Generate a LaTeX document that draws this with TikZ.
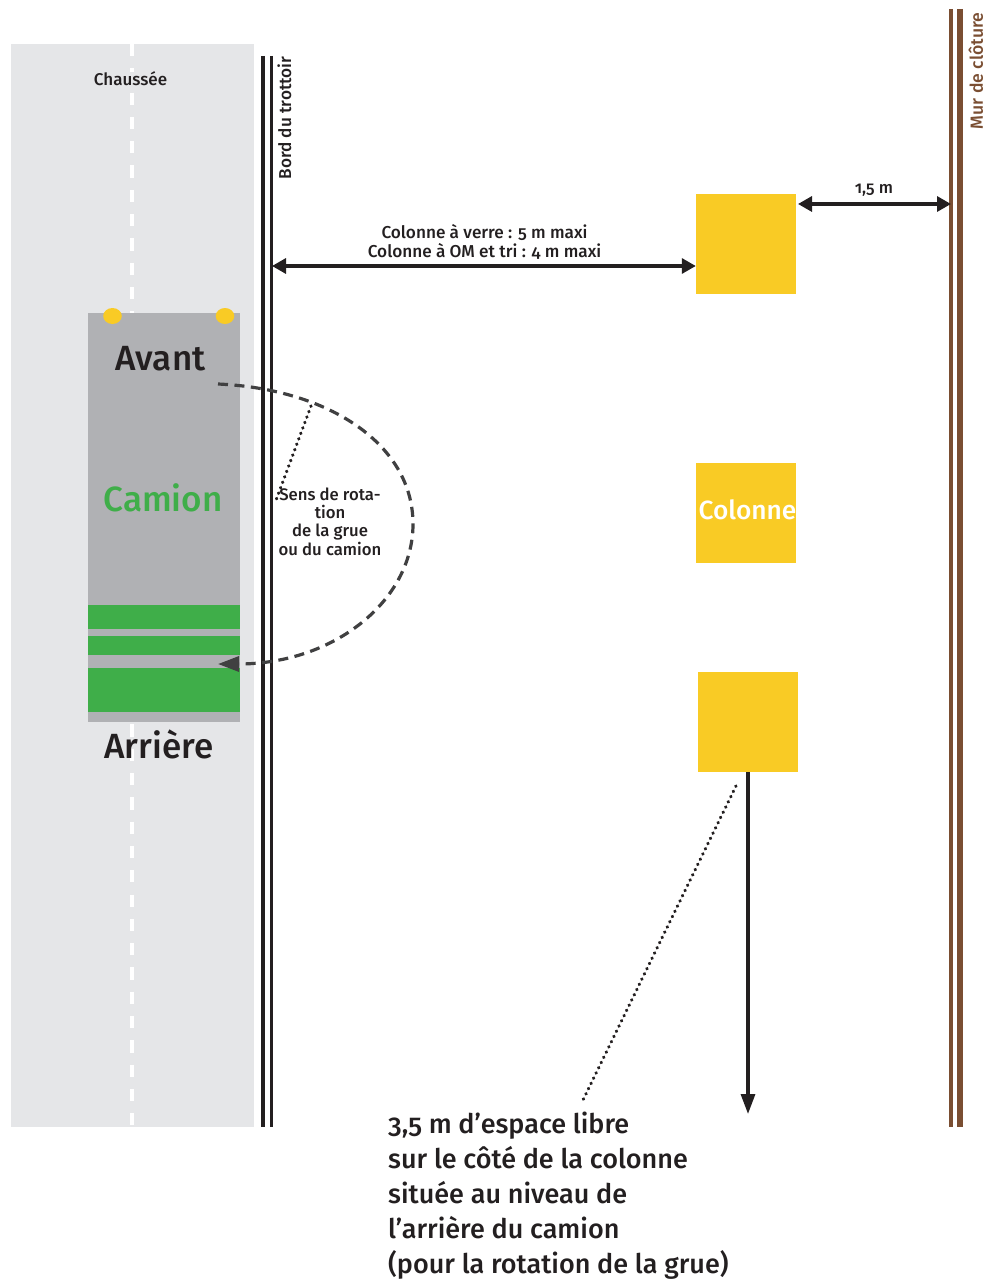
\documentclass[tikz,border=0pt]{standalone}
\usepackage{fontspec}
\setmainfont[Numbers=OldStyle,UprightFont=* Medium]{Fira Sans}
\usetikzlibrary{arrows.meta}
\definecolor{roadc}{HTML}{E5E6E8}
\definecolor{truckc}{HTML}{B0B1B4}
\definecolor{greenc}{HTML}{3FAE49}
\definecolor{yellowc}{HTML}{F9CB25}
\definecolor{brownc}{HTML}{7A4E32}
\definecolor{inkc}{HTML}{231F20}
\definecolor{dashc}{HTML}{404041}
\tikzset{x=1pt,y=-1pt,
  lab/.style={inner sep=0pt,text=inkc,font=\fontsize{16.7}{18.4}\selectfont,align=center},
  big/.style={inner sep=0pt,text=inkc,font=\fontsize{35}{40}\selectfont},
  note/.style={inner sep=0pt,text=inkc,font=\fontsize{27}{35}\selectfont,align=left,anchor=north west},
  colbox/.style={fill=yellowc,draw=none,minimum width=100pt,minimum height=100pt,inner sep=0pt},
  dbl/.style={line width=3.2pt,draw=inkc},
  dim/.style={line width=3.2pt,draw=inkc,{Triangle[length=14pt,width=15pt]}-{Triangle[length=14pt,width=15pt]}},
  dotl/.style={draw=inkc,line width=3.3pt,line cap=round,dash pattern=on 0.4pt off 5.4pt}
}
\begin{document}
\begin{tikzpicture}
\useasboundingbox (0,0) rectangle (986,1281);
\fill[roadc] (11,44) rectangle (254,1127);
\draw[white,line width=3.4pt,dash pattern=on 12.2pt off 12.1pt] (132,44) -- (132,1127);
\node[lab,fill=roadc,font=\fontsize{17}{18}\selectfont] (chaussee) at (130.5,79) {Chaussée};
% truck
\fill[truckc] (88,313) rectangle (240,722);
\fill[greenc] (88,605) rectangle (240,629);
\fill[greenc] (88,636) rectangle (240,655);
\fill[greenc] (88,668) rectangle (240,712);
\fill[yellowc] (112.5,316) ellipse (9.3 and 8);
\fill[yellowc] (225,316) ellipse (9.3 and 8);
\node[big] (avant) at (160.5,359) {Avant};
\node[big,text=greenc] (camion) at (163,498) {Camion};
\node[big] (arriere) at (159,744.5) {Arrière};
% kerb
\draw[dbl] (263,56) -- (263,1127);
\draw[dbl] (271.7,56) -- (271.7,1127);
\node[lab,font=\fontsize{17.2}{18}\selectfont] (bord) at (284.5,118) [rotate=90] {Bord du trottoir};
% wall
\draw[brownc,line width=3.6pt] (950.8,9) -- (950.8,1127);
\draw[brownc,line width=6.2pt] (959.8,9) -- (959.8,1127);
\node[lab,text=brownc,font=\fontsize{17.6}{18}\selectfont] (mur) at (976,71) [rotate=90] {Mur de clôture};
% columns
\node[colbox] (c1) at (746,244) {};
\node[colbox] (c2) at (746,513) {};
\node[inner sep=0pt,text=white,font=\fontsize{26.3}{30}\selectfont] (c2t) at (747.5,510) {Colonne};
\node[colbox] (c3) at (748,722) {};
% dimensions
\coordinate (k) at (272,266);
\coordinate (w) at (951,204);
\draw[dim] (k) -- (c1.west |- k);
\draw[dim] (798,204) -- (w);
\node[lab,font=\fontsize{17.2}{18.8}\selectfont] (d1) at (484.5,241.5) {Colonne à verre : 5 m maxi\\Colonne à OM et tri : 4 m maxi};
\node[lab] (d2) at (874,190) {1,5 m};
% rotation
\coordinate (rs) at (218,384);
\coordinate (re) at (218,664);
\draw[dashc,line width=3.2pt,dash pattern=on 10pt off 6.5pt,-{Triangle[length=21pt,width=15pt]}]
  (rs) .. controls (330,389) and (413,445) .. (413,524) .. controls (413,600) and (335,664) .. (re);
\coordinate (dp) at (311,406);
\coordinate (dq) at (275,503);
\draw[dotl] (dp) -- (dq);
\node[lab] (sens) at (330,521.5) {Sens de rota-\\tion\\de la grue\\ou du camion};
% back arrow
\coordinate (be) at (748,1114);
\draw[inkc,line width=3.2pt,-{Triangle[length=20pt,width=14pt]}] (c3.south) -- (be);
\coordinate (np) at (736,786);
\coordinate (nq) at (582,1102);
\draw[dotl] (np) -- (nq);
\node[note] (note) at (388,1112) {3,5 m d’espace libre\\sur le côté de la colonne\\située au niveau de\\l’arrière du camion\\(pour la rotation de la grue)};
\end{tikzpicture}
\end{document}
